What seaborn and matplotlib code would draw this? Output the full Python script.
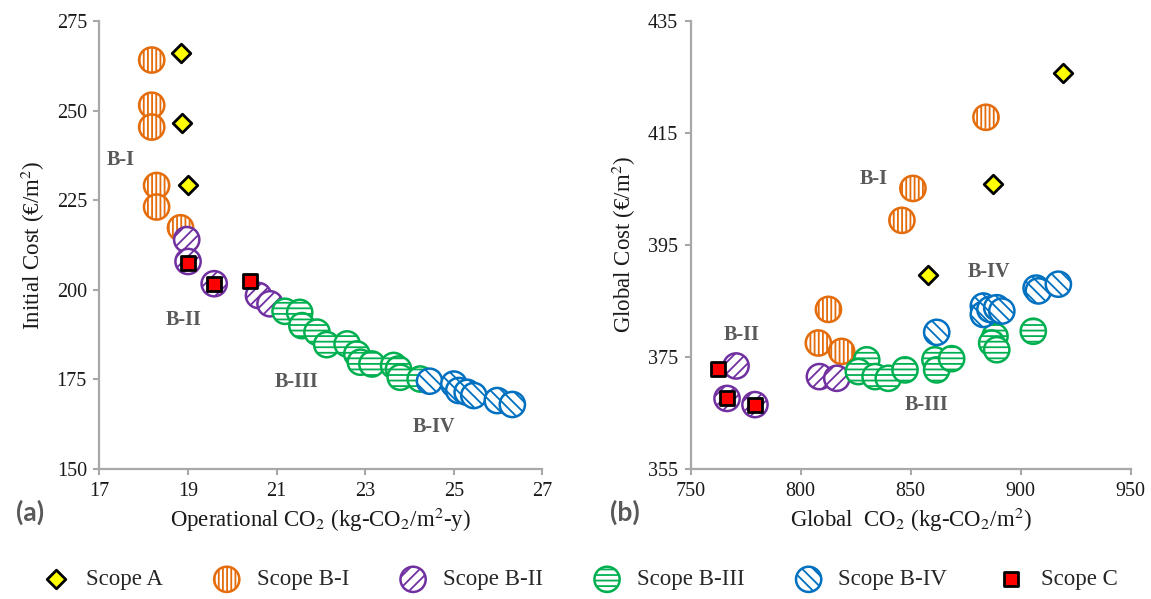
import matplotlib
matplotlib.use("Agg")
import matplotlib.pyplot as plt
import seaborn as sns
from matplotlib.collections import PathCollection
from matplotlib.legend_handler import HandlerPathCollection

# ---------------- (a) Initial cost vs operational CO2 ----------------
a_A_co2 = [18.84, 18.86, 19.00]
a_A_cost = [266.1, 246.4, 229.1]

a_BI_co2 = [18.18, 18.18, 18.18, 18.29, 18.29, 18.83]
a_BI_cost = [264.1, 251.5, 245.4, 229.1, 223.1, 217.3]

a_BII_co2 = [18.97, 19.00, 19.59, 20.59, 20.85]
a_BII_cost = [214.0, 207.9, 201.7, 198.4, 196.1]

a_BIII_co2 = [21.19, 21.52, 21.57, 21.91, 22.13, 22.59, 22.81, 22.89, 23.15,
              23.64, 23.75, 23.79, 24.24]
a_BIII_cost = [194.0, 193.7, 190.0, 188.2, 184.7, 184.9, 182.1, 179.8, 179.3,
               178.9, 177.9, 175.6, 175.1]

a_BIV_co2 = [24.45, 25.00, 25.11, 25.30, 25.45, 25.98, 26.32]
a_BIV_cost = [174.5, 173.7, 171.9, 171.4, 170.5, 169.1, 168.0]

a_C_co2 = [19.00, 19.59, 20.40]
a_C_cost = [207.5, 201.7, 202.4]

# ---------------- (b) Global cost vs global CO2 ----------------
b_A_co2 = [919.0, 887.3, 858.0]
b_A_cost = [425.7, 405.9, 389.7]

b_BI_co2 = [884.2, 851.0, 846.0, 812.6, 808.0, 818.6]
b_BI_cost = [417.8, 405.1, 399.4, 383.5, 377.5, 376.0]

b_BII_co2 = [770.6, 766.5, 779.2, 808.5, 816.4]
b_BII_cost = [373.4, 367.6, 366.5, 371.5, 371.2]

b_BIII_co2 = [830.0, 826.2, 833.8, 839.8, 847.4, 861.0, 861.8, 868.6, 888.3,
              886.8, 889.1, 905.7]
b_BIII_cost = [374.5, 372.4, 371.5, 371.2, 372.7, 374.5, 372.7, 374.7, 378.7,
               377.5, 376.3, 379.6]

b_BIV_co2 = [861.8, 883.0, 883.0, 886.0, 889.1, 891.4, 907.0, 908.0, 917.1]
b_BIV_cost = [379.4, 384.1, 382.6, 383.5, 383.8, 383.2, 387.3, 386.8, 388.0]

b_C_co2 = [762.3, 766.5, 779.2]
b_C_cost = [372.9, 367.6, 366.5]

# group labels placed on each panel
a_group_text = ["B-I", "B-II", "B-III", "B-IV"]
a_group_x = [17.47, 18.90, 21.46, 24.56]
a_group_y = [236.3, 191.7, 174.2, 161.6]
b_group_text = ["B-I", "B-II", "B-III", "B-IV"]
b_group_x = [833.0, 773.2, 857.3, 885.7]
b_group_y = [406.8, 379.0, 366.5, 390.1]

legend_labels = ["Scope A", "Scope B-I", "Scope B-II", "Scope B-III",
                 "Scope B-IV", "Scope C"]

ORANGE = "#E46C0A"
PURPLE = "#7030A0"
GREEN = "#00B050"
BLUE = "#0070C0"
YELLOW = "#FFFF00"
RED = "#FF0000"
SPINE = "#A8A8A8"
NOTE = "#595959"

sns.set_theme(style="ticks")
plt.rcParams["font.family"] = ["Liberation Serif", "DejaVu Serif"]
plt.rcParams["mathtext.fontset"] = "stix"
plt.rcParams["hatch.linewidth"] = 1.3

fig = plt.figure(figsize=(11.51, 5.99), dpi=100)
axL = fig.add_axes([0.0864, 0.217, 0.3849, 0.748])
axR = fig.add_axes([0.6001, 0.217, 0.3823, 0.748])


def hatched(ax, x, y, edge, hatch, z):
    sns.scatterplot(x=x, y=y, ax=ax, marker="o", s=330, color="white",
                    edgecolor=edge, linewidth=1.8, hatch=hatch,
                    legend=False, zorder=z)
    return ax.collections[-1]


def solid(ax, x, y, marker, size, face, z):
    sns.scatterplot(x=x, y=y, ax=ax, marker=marker, s=size, color=face,
                    edgecolor="black", linewidth=2.0, legend=False, zorder=z)
    return ax.collections[-1]


def panel(ax, A, BI, BII, BIII, BIV, C):
    h_bi = hatched(ax, *BI, ORANGE, "||||", 3)
    h_bii = hatched(ax, *BII, PURPLE, "///", 3.1)
    h_biii = hatched(ax, *BIII, GREEN, "---", 3.2)
    h_biv = hatched(ax, *BIV, BLUE, "\\\\\\", 3.3)
    h_a = solid(ax, *A, "D", 90, YELLOW, 4)
    h_c = solid(ax, *C, "s", 90, RED, 5)
    return [h_a, h_bi, h_bii, h_biii, h_biv, h_c]


handles = panel(axL, (a_A_co2, a_A_cost), (a_BI_co2, a_BI_cost),
                (a_BII_co2, a_BII_cost), (a_BIII_co2, a_BIII_cost),
                (a_BIV_co2, a_BIV_cost), (a_C_co2, a_C_cost))
panel(axR, (b_A_co2, b_A_cost), (b_BI_co2, b_BI_cost),
      (b_BII_co2, b_BII_cost), (b_BIII_co2, b_BIII_cost),
      (b_BIV_co2, b_BIV_cost), (b_C_co2, b_C_cost))

for t, x, y in zip(a_group_text, a_group_x, a_group_y):
    axL.text(x, y, t, ha="center", va="center", fontsize=14.5,
             fontweight="bold", color=NOTE, zorder=6)
for t, x, y in zip(b_group_text, b_group_x, b_group_y):
    axR.text(x, y, t, ha="center", va="center", fontsize=14.5,
             fontweight="bold", color=NOTE, zorder=6)

axL.set_xlim(17, 27)
axL.set_ylim(150, 275)
axL.set_xticks(range(17, 28, 2))
axL.set_yticks(range(150, 276, 25))
axL.set_xlabel("Operational CO$_2$ (kg-CO$_2$/m$^2$-y)", fontsize=16.5,
               labelpad=4)
axL.set_ylabel("Initial Cost (€/m$^2$)", fontsize=16.5, labelpad=7)

axR.set_xlim(750, 950)
axR.set_ylim(355, 435)
axR.set_xticks(range(750, 951, 50))
axR.set_yticks(range(355, 436, 20))
axR.set_xlabel("Global  CO$_2$ (kg-CO$_2$/m$^2$)", fontsize=16.5, labelpad=4)
axR.set_ylabel("Global Cost (€/m$^2$)", fontsize=16.5, labelpad=7)

for ax in (axL, axR):
    sns.despine(ax=ax)
    for side in ("left", "bottom"):
        ax.spines[side].set_color(SPINE)
        ax.spines[side].set_linewidth(1.6)
    ax.tick_params(direction="out", length=4, width=1.5, color=SPINE,
                   labelsize=14.5, labelcolor="#1a1a1a", pad=5)
    ax.xaxis.label.set_color("#1a1a1a")
    ax.yaxis.label.set_color("#1a1a1a")
    ax.grid(False)

fig.text(0.026, 0.145, "(a)", fontsize=19, fontweight="bold", color=NOTE,
         family="Lato", ha="center", va="center")
fig.text(0.543, 0.145, "(b)", fontsize=19, fontweight="bold", color=NOTE,
         family="Lato", ha="center", va="center")


class HatchedHandler(HandlerPathCollection):
    def update_prop(self, legend_handle, orig_handle, legend):
        super().update_prop(legend_handle, orig_handle, legend)
        legend_handle.set_edgecolor(orig_handle.get_edgecolor())
        legend_handle.set_hatch(orig_handle.get_hatch())


fig.legend(handles, legend_labels, loc="center", bbox_to_anchor=(0.5, 0.032),
           ncol=6, frameon=False, fontsize=16.5, handletextpad=0.3,
           columnspacing=1.8, scatterpoints=1,
           handler_map={PathCollection: HatchedHandler()})

fig.savefig("out.png", dpi=100)
